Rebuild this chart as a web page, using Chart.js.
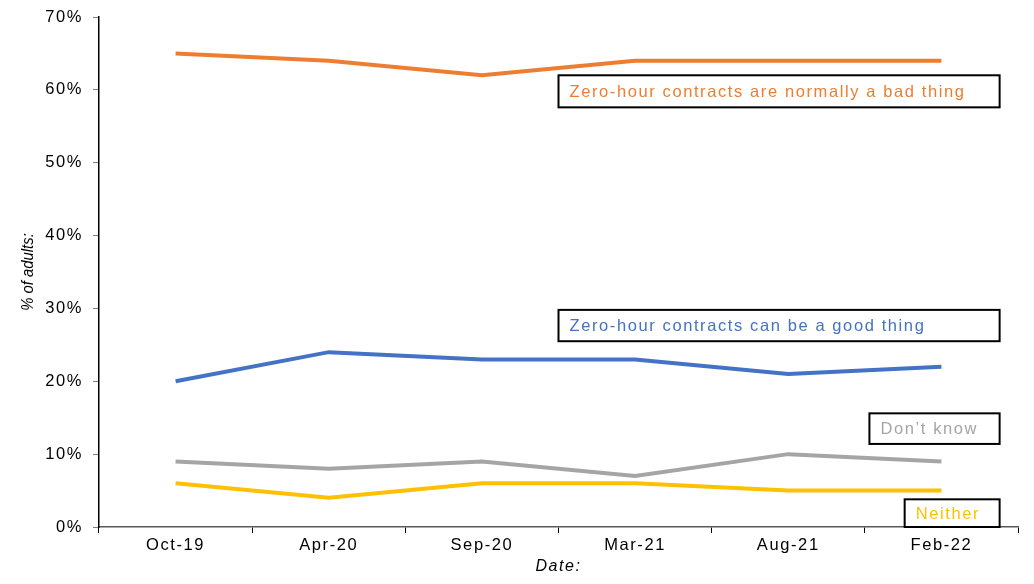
<!DOCTYPE html>
<html>
<head>
<meta charset="utf-8">
<script src="https://cdn.jsdelivr.net/npm/chart.js@4/dist/chart.umd.min.js"></script>
<style>
  html, body { margin: 0; padding: 0; background: #fff; }
  #wrap { width: 1034px; height: 584px; }
</style>
</head>
<body>
<div id="wrap"><canvas id="zhc_chart"></canvas></div>
<script>
// survey waves
const dates = ['Oct-19', 'Apr-20', 'Sep-20', 'Mar-21', 'Aug-21', 'Feb-22'];

// % of adults for each answer
const badThing = [65, 64, 62, 64, 64, 64];
const goodThing = [20, 24, 23, 23, 21, 22];
const dontKnow = [9, 8, 9, 7, 10, 9];
const neither = [6, 4, 6, 6, 5, 5];

const yTicks = [0, 10, 20, 30, 40, 50, 60, 70];

const ORANGE = '#ED7D31';
const BLUE = '#4472C4';
const GREY = '#A5A5A5';
const YELLOW = '#FFC000';
const FONT = '"Liberation Sans", Arial, sans-serif';
const SPACING = '1.6px';

// boxed series labels, placed in data units (category index, % value)
const notes = [
  {text: 'Zero-hour contracts are normally a bad thing', color: ORANGE, x0: 2.5, x1: 5.38, yTop: 62.0, yBot: 57.6},
  {text: 'Zero-hour contracts can be a good thing', color: BLUE, x0: 2.5, x1: 5.38, yTop: 29.8, yBot: 25.5},
  {text: 'Don\u2019t know', color: GREY, x0: 4.53, x1: 5.38, yTop: 15.6, yBot: 11.4},
  {text: 'Neither', color: YELLOW, x0: 4.76, x1: 5.38, yTop: 3.8, yBot: 0},
];

// Excel-style text is a bit wider, so space the letters out everywhere
const spacingPlugin = {
  id: 'spacing',
  beforeLayout(chart) { chart.ctx.letterSpacing = SPACING; },
  beforeDraw(chart) { chart.ctx.letterSpacing = SPACING; },
};

// the y title in the original is narrow, so draw it by hand without spacing
const yTitlePlugin = {
  id: 'yTitle',
  afterDraw(chart) {
    const {ctx, chartArea} = chart;
    ctx.save();
    ctx.letterSpacing = '0px';
    ctx.translate(28, (chartArea.top + chartArea.bottom) / 2);
    ctx.rotate(-Math.PI / 2);
    ctx.scale(0.9, 1);
    ctx.font = 'italic 16.5px ' + FONT;
    ctx.fillStyle = '#000';
    ctx.textAlign = 'center';
    ctx.textBaseline = 'middle';
    ctx.fillText('% of adults:', 0, 0);
    ctx.restore();
  }
};

const notesPlugin = {
  id: 'notes',
  afterDatasetsDraw(chart) {
    const {ctx, scales: {x, y}} = chart;
    ctx.save();
    notes.forEach(n => {
      const left = x.getPixelForValue(n.x0);
      const right = x.getPixelForValue(n.x1);
      const top = y.getPixelForValue(n.yTop);
      const bot = y.getPixelForValue(n.yBot);
      ctx.fillStyle = '#fff';
      ctx.fillRect(left, top, right - left, bot - top);
      ctx.lineWidth = 2;
      ctx.strokeStyle = '#000';
      ctx.strokeRect(left, top, right - left, bot - top);
      ctx.font = '16.5px ' + FONT;
      ctx.letterSpacing = SPACING;
      ctx.fillStyle = n.color;
      ctx.textAlign = 'left';
      ctx.textBaseline = 'middle';
      ctx.fillText(n.text, left + 11, (top + bot) / 2 + 1);
    });
    ctx.restore();
  }
};

const line = (label, data, color) => ({
  label: label,
  data: data,
  borderColor: color,
  backgroundColor: color,
  borderWidth: 4,
  pointRadius: 0,
  tension: 0,
  fill: false,
});

const zhc_chart = new Chart(document.getElementById('zhc_chart'), {
  type: 'line',
  data: {
    labels: dates,
    datasets: [
      line('Zero-hour contracts are normally a bad thing', badThing, ORANGE),
      line('Zero-hour contracts can be a good thing', goodThing, BLUE),
      line('Don\u2019t know', dontKnow, GREY),
      line('Neither', neither, YELLOW),
    ]
  },
  options: {
    responsive: true,
    maintainAspectRatio: false,
    animation: false,
    layout: {padding: {top: 17, right: 16, bottom: 0, left: 0}},
    plugins: {
      legend: {display: false},
      tooltip: {enabled: false},
    },
    scales: {
      x: {
        offset: true,
        grid: {
          offset: true,
          drawOnChartArea: false,
          tickLength: 6,
          color: '#000',
        },
        border: {color: '#595959', width: 1.5},
        ticks: {
          color: '#000',
          font: {family: FONT, size: 16.5},
          padding: 3,
          maxRotation: 0,
        },
        title: {
          display: true,
          text: 'Date:',
          color: '#000',
          font: {family: FONT, size: 16, style: 'italic'},
          padding: {top: 2, bottom: 8},
        },
        afterFit: s => { s.height = 57; },
      },
      y: {
        min: 0,
        max: 70,
        afterBuildTicks: s => { s.ticks = yTicks.map(v => ({value: v})); },
        grid: {
          drawOnChartArea: false,
          tickLength: 6,
          color: '#7f7f7f',
        },
        border: {color: '#000', width: 1.5},
        ticks: {
          color: '#000',
          font: {family: FONT, size: 16.5},
          padding: 10,
          callback: v => v + '%',
        },
        afterFit: s => { s.width = 99; s.paddingTop = 0; s.paddingBottom = 0; },
      }
    }
  },
  plugins: [spacingPlugin, notesPlugin, yTitlePlugin]
});
</script>
</body>
</html>
